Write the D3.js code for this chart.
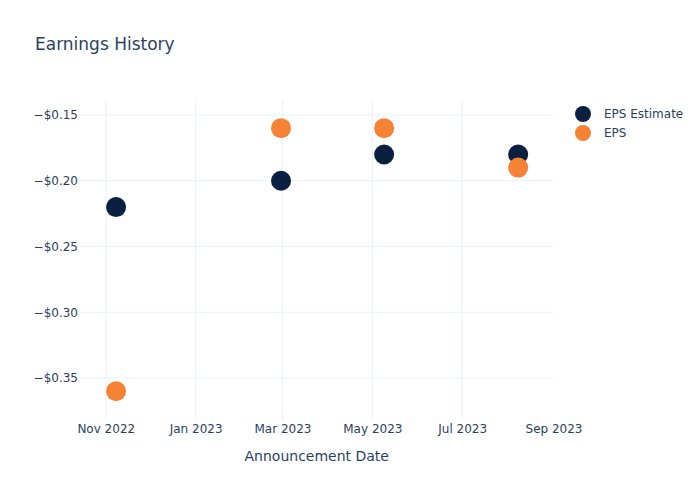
<!DOCTYPE html>
<html><head><meta charset="utf-8">
<script src="https://cdn.jsdelivr.net/npm/d3@7"></script>
<style>body{margin:0;background:#fff}svg{display:block}text{font-family:"DejaVu Sans",Verdana,sans-serif;fill:#2a3f5f}</style>
</head><body>
<script>
const dates = ["2022-11-08","2023-02-28","2023-05-09","2023-08-08"];
const epsEstimate = [-0.22,-0.20,-0.18,-0.18];
const eps = [-0.36,-0.16,-0.16,-0.19];
const yTicks = [-0.35,-0.30,-0.25,-0.20,-0.15];
const xTicks = ["2022-11-01","2023-01-01","2023-03-01","2023-05-01","2023-07-01","2023-09-01"];
const seriesNames = ["EPS Estimate","EPS"];
const colors = ["#0b1f41","#f58235"];

const W=700,H=500, L=80, R=553.5, T=100, B=420;
const parse = d3.utcParse("%Y-%m-%d");
const svg = d3.select("body").append("svg").attr("width",W).attr("height",H);

const x = d3.scaleUtc().domain([new Date(Date.UTC(2022,9,14,12)), parse("2023-09-01")]).range([L,R]);
const y = d3.scaleLinear().domain([-0.3819,-0.1386]).range([B,T]);

// grid (no gridline drawn at the right edge)
svg.append("g").selectAll("line").data(xTicks.map(parse).filter(d=>x(d)<R-1)).join("line")
  .attr("x1",d=>x(d)).attr("x2",d=>x(d)).attr("y1",T).attr("y2",B)
  .attr("stroke","#ebf0f8").attr("stroke-width",1);
svg.append("g").selectAll("line").data(yTicks).join("line")
  .attr("x1",L).attr("x2",R).attr("y1",d=>y(d)).attr("y2",d=>y(d))
  .attr("stroke","#ebf0f8").attr("stroke-width",1);

// axes
const fmtX = d3.utcFormat("%b %Y");
const xAxis = d3.axisBottom(x).tickValues(xTicks.map(parse)).tickFormat(fmtX).tickSize(0).tickPadding(0);
const gx = svg.append("g").attr("transform",`translate(0,${B})`).call(xAxis);
gx.select(".domain").remove();
gx.selectAll("text").attr("font-size",12).attr("dy",null).attr("y",13).style("font-family","DejaVu Sans").style("fill","#2a3f5f");

const fmtY = d => "\u2212$" + Math.abs(d).toFixed(2);
const yAxis = d3.axisLeft(y).tickValues(yTicks).tickFormat(fmtY).tickSize(0).tickPadding(2);
const gy = svg.append("g").attr("transform",`translate(${L},0)`).call(yAxis);
gy.select(".domain").remove();
gy.selectAll("text").attr("font-size",12).style("font-family","DejaVu Sans").style("fill","#2a3f5f");

// axis title
svg.append("text").attr("x",(L+R)/2).attr("y",461).attr("text-anchor","middle").attr("font-size",14).text("Announcement Date");
// title
svg.append("text").attr("x",35).attr("y",50).attr("font-size",17).text("Earnings History");

// points
[epsEstimate, eps].forEach((vals,i)=>{
  svg.append("g").selectAll("circle").data(vals).join("circle")
    .attr("cx",(d,j)=>x(parse(dates[j]))).attr("cy",d=>y(d)).attr("r",10)
    .attr("fill",colors[i]);
});

// legend
const lg = svg.append("g");
seriesNames.forEach((n,i)=>{
  lg.append("circle").attr("cx",583).attr("cy",114+i*19).attr("r",8).attr("fill",colors[i]);
  lg.append("text").attr("x",604).attr("y",118+i*19).attr("font-size",12).text(n);
});
</script>
</body></html>
